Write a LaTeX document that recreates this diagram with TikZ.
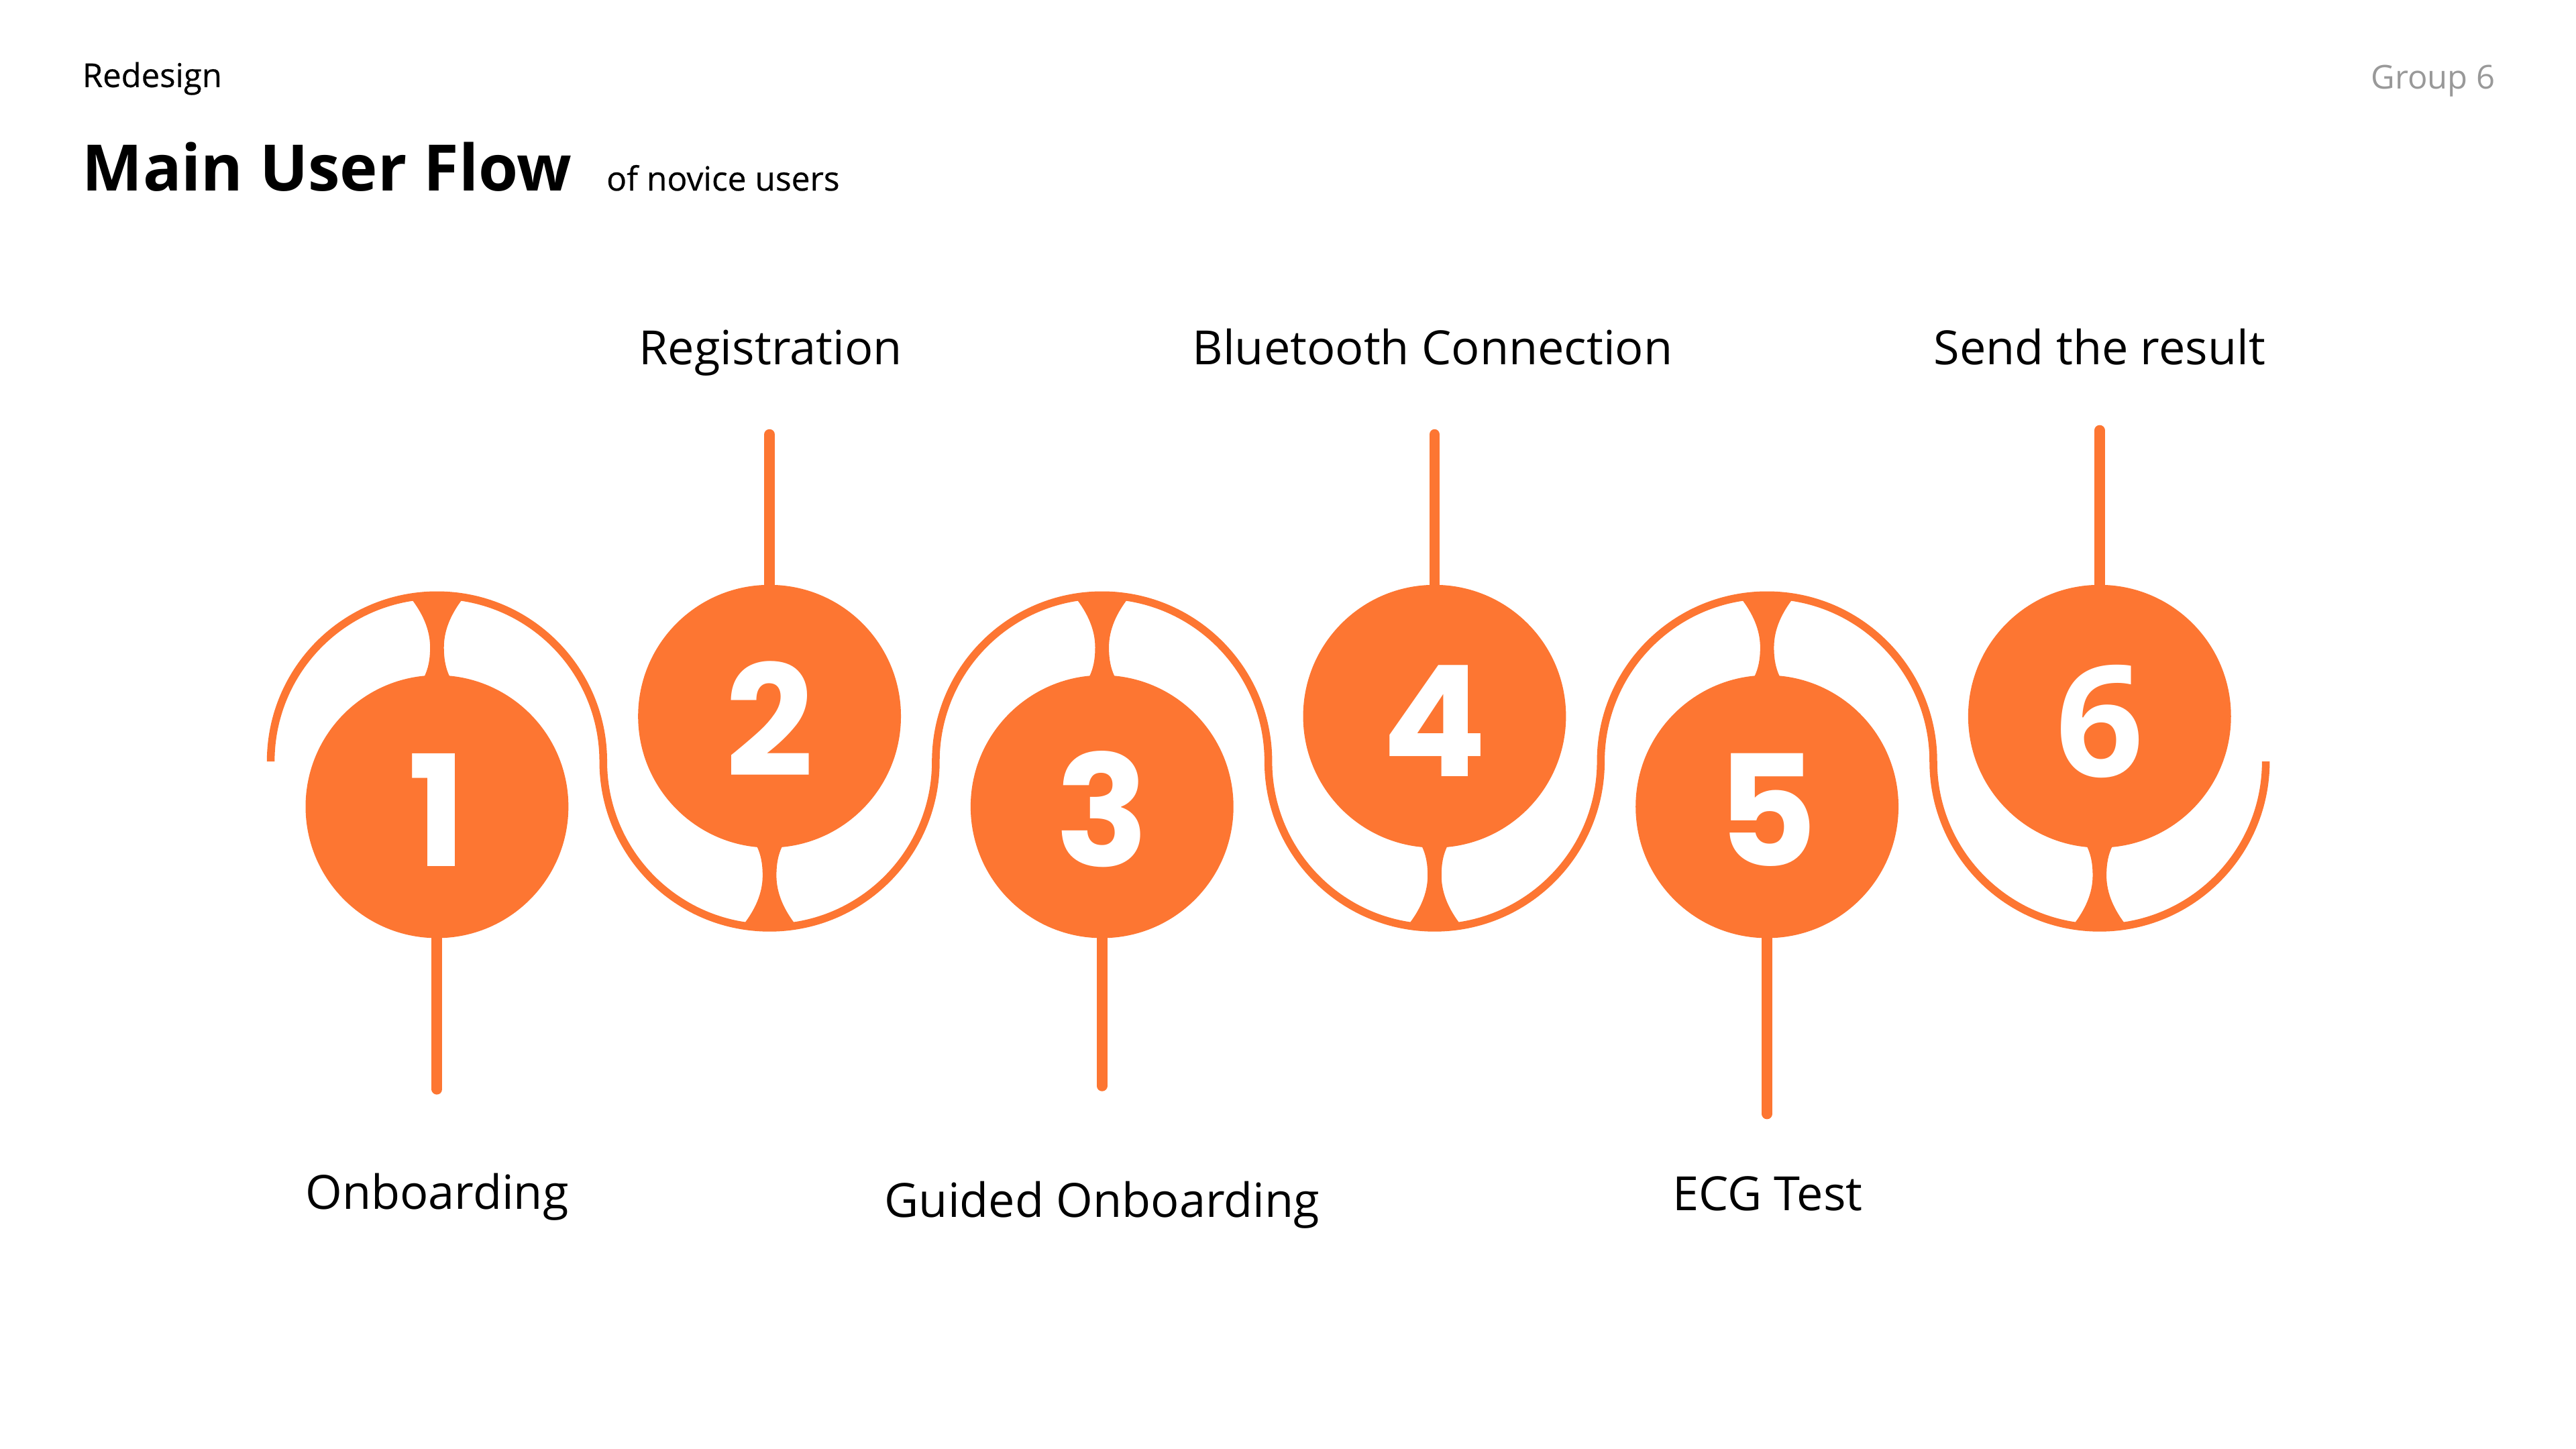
\documentclass[tikz,border=0pt]{standalone}
\usepackage{fontspec}
\setmainfont{Open Sans}
\newfontfamily\digitfont{Poppins}
\newfontfamily\mediumfont{Open Sans}[FakeBold=0.5]
\definecolor{flow}{RGB}{253,118,50}
\definecolor{tagline}{RGB}{153,153,153}
\begin{document}
\begin{tikzpicture}[x=1pt,y=1pt,
  stepnode/.style={circle,fill=flow,minimum size=160pt,inner sep=0pt},
  digit/.style={anchor=base,text=white,inner sep=0pt,
    font=\digitfont\bfseries\fontsize{94}{94}\selectfont},
  stem/.style={draw=flow,line width=6.5pt,line cap=round},
  wave/.style={draw=flow,line width=4.7pt},
  caption/.style={anchor=base,inner sep=0pt,font=\fontsize{28.7}{34}\selectfont},
  heading/.style={anchor=base west,inner sep=0pt},
  neck/.pic={
    \fill[flow] (-16,127) .. controls (-9,118) and (-4.2,108) .. (-4.2,97)
      .. controls (-4.2,89) and (-5.5,84) .. (-7.5,79.6) -- (-7.5,70)
      -- (7.5,70) -- (7.5,79.6) .. controls (5.5,84) and (4.2,89) .. (4.2,97)
      .. controls (4.2,108) and (9,118) .. (16,127) -- (0,128.5) -- cycle;
  }
]
\useasboundingbox (0,0) rectangle (1568,-882);
\fill[white] (0,0) rectangle (1568,-882);

% header
\node[heading,font=\mediumfont\fontsize{20}{24}\selectfont] (kicker) at (50,-53) {Redesign};
\node[heading,font=\bfseries\fontsize{39}{46}\selectfont] (title) at (50,-116) {Main User Flow};
\node[heading,font=\mediumfont\fontsize{20.3}{24}\selectfont] (subtitle) at (369,-116) {of novice users};
\node[anchor=base east,inner sep=0pt,text=tagline,font=\fontsize{20}{24}\selectfont] (group) at (1519,-54) {Group 6};

% wave of alternating half circles
\draw[wave] (164.8,-463.5)
  arc[start angle=180,end angle=0,radius=101.2]
  arc[start angle=180,end angle=360,radius=101.2]
  arc[start angle=180,end angle=0,radius=101.2]
  arc[start angle=180,end angle=360,radius=101.2]
  arc[start angle=180,end angle=0,radius=101.2]
  arc[start angle=180,end angle=360,radius=101.2];

% necks joining the circles to the wave
\pic at (266,-491) {neck};
\pic[yscale=-1] at (468.4,-436) {neck};
\pic at (670.8,-491) {neck};
\pic[yscale=-1] at (873.2,-436) {neck};
\pic at (1075.6,-491) {neck};
\pic[yscale=-1] at (1278,-436) {neck};

% step circles
\node[stepnode] (c1) at (266,-491) {};
\node[stepnode] (c2) at (468.4,-436) {};
\node[stepnode] (c3) at (670.8,-491) {};
\node[stepnode] (c4) at (873.2,-436) {};
\node[stepnode] (c5) at (1075.6,-491) {};
\node[stepnode] (c6) at (1278,-436) {};

\node[digit] (d1) at (266,-527.5) {1};
\node[digit] (d2) at (468.4,-472.5) {2};
\node[digit] (d3) at (670.8,-527.5) {3};
\node[digit] (d4) at (873.2,-472.5) {4};
\node[digit] (d5) at (1075.6,-527.5) {5};
\node[digit,font=\bfseries\fontsize{94}{94}\selectfont] (d6) at (1278,-472.5) {6};

% stems
\coordinate (e1) at (266,-663);
\coordinate (e2) at (468.4,-264.5);
\coordinate (e3) at (670.8,-661);
\coordinate (e4) at (873.2,-264.5);
\coordinate (e5) at (1075.6,-678);
\coordinate (e6) at (1278,-262);
\draw[stem] (c1.south) -- (e1);
\draw[stem] (c2.north) -- (e2);
\draw[stem] (c3.south) -- (e3);
\draw[stem] (c4.north) -- (e4);
\draw[stem] (c5.south) -- (e5);
\draw[stem] (c6.north) -- (e6);

% captions
\node[caption] (t1) at (266,-736) {Onboarding};
\node[caption] (t2) at (469,-222) {Registration};
\node[caption] (t3) at (670.8,-741) {Guided Onboarding};
\node[caption] (t4) at (872,-222) {Bluetooth Connection};
\node[caption] (t5) at (1076,-737) {ECG Test};
\node[caption] (t6) at (1278,-222) {Send the result};
\end{tikzpicture}
\end{document}
